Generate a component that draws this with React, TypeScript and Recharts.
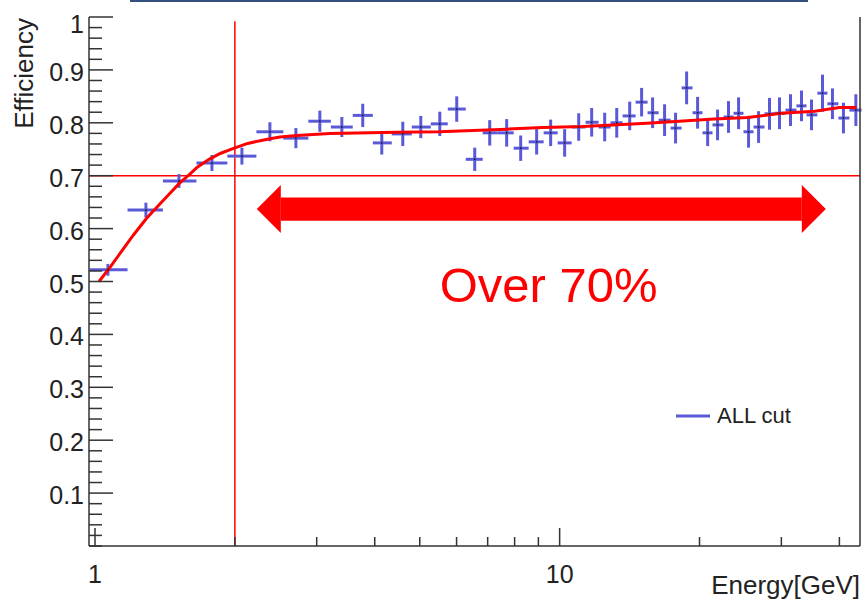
import React from 'react';
import {
  ComposedChart,
  XAxis,
  YAxis,
  Scatter,
  Line,
  ErrorBar,
  ReferenceLine,
  ReferenceArea,
  ReferenceDot,
  Label,
  Legend,
} from 'recharts';

// ---- data ----
const binEdges = [
  0.975, 1.175, 1.4, 1.653, 1.927, 2.225, 2.543, 2.879, 3.218, 3.587, 3.962, 4.352, 4.806,
  5.28, 5.744, 6.279, 6.83, 7.356, 7.963, 8.577, 9.238, 9.902, 10.61, 11.37, 12.13, 12.87,
  13.66, 14.57, 15.46, 16.33, 17.33, 18.3, 19.32, 20.3, 21.33, 22.53, 23.67, 24.87, 26.14,
  27.6, 29.0, 30.62, 32.33, 33.98, 35.87, 37.7, 39.81, 42.04, 44.62,
];
const binCenters = [
  1.066, 1.287, 1.516, 1.785, 2.071, 2.379, 2.706, 3.047, 3.398, 3.769, 4.142, 4.596, 5.025,
  5.521, 6.005, 6.565, 7.071, 7.691, 8.244, 8.923, 9.564, 10.25, 10.99, 11.72, 12.5, 13.27,
  14.15, 15.01, 15.85, 16.82, 17.76, 18.76, 19.81, 20.82, 21.87, 23.09, 24.27, 25.5, 26.8,
  28.29, 29.73, 31.39, 33.15, 34.84, 36.79, 38.65, 40.81, 43.4,
];
const efficiency = [
  0.522, 0.635, 0.69, 0.724, 0.737, 0.783, 0.771, 0.803, 0.792, 0.814, 0.762, 0.779, 0.792,
  0.798, 0.826, 0.731, 0.781, 0.781, 0.752, 0.764, 0.781, 0.762, 0.792, 0.801, 0.792, 0.8,
  0.813, 0.839, 0.819, 0.805, 0.79, 0.866, 0.819, 0.781, 0.796, 0.811, 0.818, 0.783, 0.792,
  0.817, 0.818, 0.824, 0.832, 0.815, 0.856, 0.836, 0.809, 0.824,
];
const efficiencyError = [
  0.011, 0.014, 0.013, 0.015, 0.016, 0.018, 0.019, 0.02, 0.019, 0.022, 0.022, 0.023, 0.021,
  0.023, 0.024, 0.022, 0.024, 0.026, 0.024, 0.024, 0.025, 0.026, 0.026, 0.027, 0.027, 0.028,
  0.027, 0.027, 0.029, 0.03, 0.029, 0.031, 0.03, 0.025, 0.029, 0.03, 0.03, 0.03, 0.03, 0.03,
  0.03, 0.03, 0.029, 0.029, 0.035, 0.029, 0.029, 0.03,
];
const fitEnergy = [
  1.02, 1.08, 1.13, 1.21, 1.29, 1.36, 1.44, 1.52, 1.6, 1.66, 1.76, 1.86, 1.98, 2.13, 2.35,
  2.5, 2.72, 3.2, 4.46, 5.5, 7.7, 9.2, 11.2, 13.0, 15.4, 18.1, 21.5, 25.4, 30.0, 35.4, 40.0,
  43.5,
];
const fitValue = [
  0.5, 0.528, 0.552, 0.588, 0.619, 0.641, 0.664, 0.686, 0.703, 0.716, 0.731, 0.742, 0.751,
  0.761, 0.769, 0.773, 0.776, 0.78, 0.782, 0.783, 0.788, 0.791, 0.793, 0.796, 0.799, 0.803,
  0.807, 0.81, 0.818, 0.822, 0.829, 0.829,
];
const xTicks = [1, 2, 3, 4, 5, 6, 7, 8, 9, 10, 20, 30, 40];
const xMajorTicks = [1, 10];
const xTickLabels = ['1', '10'];
const yTicks = [
  0, 0.02, 0.04, 0.06, 0.08, 0.1, 0.12, 0.14, 0.16, 0.18, 0.2, 0.22, 0.24, 0.26, 0.28, 0.3,
  0.32, 0.34, 0.36, 0.38, 0.4, 0.42, 0.44, 0.46, 0.48, 0.5, 0.52, 0.54, 0.56, 0.58, 0.6, 0.62,
  0.64, 0.66, 0.68, 0.7, 0.72, 0.74, 0.76, 0.78, 0.8, 0.82, 0.84, 0.86, 0.88, 0.9, 0.92, 0.94,
  0.96, 0.98, 1,
];
const yMajorTicks = [0.1, 0.2, 0.3, 0.4, 0.5, 0.6, 0.7, 0.8, 0.9, 1];
const yTickLabels = ['0.1', '0.2', '0.3', '0.4', '0.5', '0.6', '0.7', '0.8', '0.9', '1'];
const thresholdEfficiency = 0.7;
const thresholdEnergy = 2;
const arrowLeftTip = 2.23;
const arrowRightTip = 37.4;
const arrowLeftBase = 2.51;
const arrowRightBase = 33.2;
const arrowLevel = 0.637;
const arrowHalfBody = 0.022;
const noteEnergy = 9.47;
const noteLevel = 0.493;
const noteText = 'Over 70%';
const seriesName = 'ALL cut';
const xTitle = 'Energy[GeV]';
const yTitle = 'Efficiency';

const points = binCenters.map((e, i) => ({
  e,
  eff: efficiency[i],
  yErr: efficiencyError[i],
  xErr: [e - binEdges[i], binEdges[i + 1] - e],
}));
const fitRows = fitEnergy.map((e, i) => ({ e, fit: fitValue[i] }));

const FONT = '"Liberation Sans", Arial, Helvetica, sans-serif';
const AXIS = '#333';
const BLUE = '#5a5ad8';
const RED = '#ff0000';

const near = (a: number, b: number) => Math.abs(a - b) < 1e-6;

const XTick = (props: any) => {
  const { x, y, payload } = props;
  const v = payload.value;
  const mi = xMajorTicks.findIndex((m) => near(m, v));
  const len = mi >= 0 ? 18 : 9;
  return (
    <g>
      <line x1={x} x2={x} y1={y} y2={y - len} stroke={AXIS} strokeWidth={1.5} />
      {mi >= 0 && (
        <text x={x} y={y + 37} textAnchor="middle" fontSize={25} fontFamily={FONT} fill="#222">
          {xTickLabels[mi]}
        </text>
      )}
    </g>
  );
};

const YTick = (props: any) => {
  const { x, y, payload } = props;
  const v = payload.value;
  const mi = yMajorTicks.findIndex((m) => near(m, v));
  const len = mi >= 0 ? 24 : 13;
  const dy = near(v, 1) ? 16 : 11;
  return (
    <g>
      <line x1={x} x2={x + len} y1={y} y2={y} stroke={AXIS} strokeWidth={1.5} />
      {mi >= 0 && (
        <text x={x - 5} y={y + dy} textAnchor="end" fontSize={25} fontFamily={FONT} fill="#222">
          {yTickLabels[mi]}
        </text>
      )}
    </g>
  );
};

const CenterDot = (props: any) => {
  const { cx, cy } = props;
  if (cx == null || cy == null) return null;
  return <rect x={cx - 0.75} y={cy - 0.75} width={1.5} height={1.5} fill="#111" />;
};

const LegendBox = () => (
  <div style={{ display: 'flex', alignItems: 'center', fontFamily: FONT }}>
    <svg width={40} height={20}>
      <line x1={0} x2={34} y1={10} y2={10} stroke={BLUE} strokeWidth={3} />
    </svg>
    <span style={{ fontSize: 22, color: '#222', marginLeft: 1 }}>{seriesName}</span>
  </div>
);

export default function App() {
  return (
    <div style={{ position: 'absolute', left: 0, top: 0, width: 865, height: 602, background: '#fff' }}>
      <div style={{ position: 'absolute', left: 130, top: 0, width: 678, height: 2, background: '#34507f' }} />
      <ComposedChart
        width={865}
        height={602}
        margin={{ top: 17, right: 0, bottom: 0, left: 0 }}
        style={{ fontFamily: FONT }}
      >
        <XAxis
          dataKey="e"
          type="number"
          scale="log"
          domain={[0.9707, 44.3]}
          allowDataOverflow
          ticks={xTicks}
          interval={0}
          tick={<XTick />}
          tickLine={false}
          tickSize={0}
          tickMargin={0}
          height={56}
          axisLine={{ stroke: AXIS, strokeWidth: 1.5 }}
        >
          <Label
            content={() => (
              <text x={860} y={594} textAnchor="end" fontSize={26} fontFamily={FONT} fill="#222">
                {xTitle}
              </text>
            )}
          />
        </XAxis>
        <YAxis
          type="number"
          domain={[0, 1]}
          allowDataOverflow
          ticks={yTicks}
          interval={0}
          tick={<YTick />}
          tickLine={false}
          tickSize={0}
          tickMargin={0}
          width={89}
          axisLine={{ stroke: AXIS, strokeWidth: 1.5 }}
        >
          <Label
            content={() => (
              <text
                x={33}
                y={18}
                textAnchor="end"
                fontSize={26}
                fontFamily={FONT}
                fill="#222"
                transform="rotate(-90, 33, 18)"
              >
                {yTitle}
              </text>
            )}
          />
        </YAxis>
        <YAxis
          yAxisId="frame"
          orientation="right"
          width={5}
          tick={false}
          tickLine={false}
          axisLine={{ stroke: AXIS, strokeWidth: 1.5 }}
          domain={[0, 1]}
        />
        <ReferenceLine y={thresholdEfficiency} stroke={RED} strokeWidth={1.5} />
        <ReferenceLine
          segment={[
            { x: thresholdEnergy, y: 0 },
            { x: thresholdEnergy, y: 0.992 },
          ]}
          stroke={RED}
          strokeWidth={1.5}
        />
        <ReferenceArea
          x1={arrowLeftBase}
          x2={arrowRightBase}
          y1={arrowLevel - arrowHalfBody}
          y2={arrowLevel + arrowHalfBody}
          fill={RED}
          fillOpacity={1}
          stroke="none"
        />
        <ReferenceDot
          x={arrowLeftTip}
          y={arrowLevel}
          r={1}
          shape={(p: any) => (
            <polygon
              points={`${p.cx},${p.cy} ${p.cx + 24},${p.cy - 24} ${p.cx + 24},${p.cy + 24}`}
              fill={RED}
            />
          )}
        />
        <ReferenceDot
          x={arrowRightTip}
          y={arrowLevel}
          r={1}
          shape={(p: any) => (
            <polygon
              points={`${p.cx},${p.cy} ${p.cx - 24},${p.cy - 24} ${p.cx - 24},${p.cy + 24}`}
              fill={RED}
            />
          )}
        />
        <ReferenceDot
          x={noteEnergy}
          y={noteLevel}
          r={1}
          shape={(p: any) => (
            <text x={p.cx} y={p.cy + 17} textAnchor="middle" fontSize={49} fontFamily={FONT} fill={RED}>
              {noteText}
            </text>
          )}
        />
        <Scatter
          name={seriesName}
          data={points}
          dataKey="eff"
          fill={BLUE}
          shape={<CenterDot />}
          isAnimationActive={false}
        >
          <ErrorBar dataKey="yErr" direction="y" width={0} stroke={BLUE} strokeWidth={3} isAnimationActive={false} />
          <ErrorBar dataKey="xErr" direction="x" width={0} stroke={BLUE} strokeWidth={3} isAnimationActive={false} />
        </Scatter>
        <Line
          data={fitRows}
          dataKey="fit"
          type="linear"
          stroke={RED}
          strokeWidth={3}
          dot={false}
          legendType="none"
          isAnimationActive={false}
        />
        <Legend
          verticalAlign="middle"
          align="center"
          content={() => <LegendBox />}
          wrapperStyle={{ position: 'absolute', left: 676, top: 403, width: 140, height: 22 }}
        />
      </ComposedChart>
    </div>
  );
}
